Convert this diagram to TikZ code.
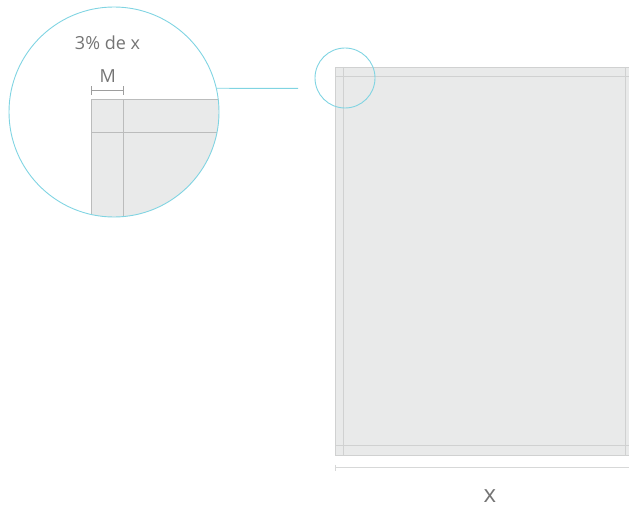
\documentclass[tikz,border=0pt]{standalone}
\usepackage{fontspec}
\setmainfont{Open Sans}
\usetikzlibrary{positioning}
\definecolor{pagefill}{HTML}{E9EAEA}
\definecolor{pageline}{HTML}{D0D1D1}
\definecolor{zoomline}{HTML}{80D4E2}
\definecolor{labelgray}{HTML}{747474}
\tikzset{
  page/.style={fill=pagefill, draw=pageline, line width=0.9pt},
  guide/.style={draw=pageline, line width=0.9pt},
  lens/.style={circle, draw=zoomline, line width=0.9pt, inner sep=0pt},
  dimline/.style={draw=pageline!85!white, line width=1.3pt},
  label/.style={text=labelgray, inner sep=0pt, font=\fontsize{18}{18}\selectfont}
}
\begin{document}
\begin{tikzpicture}[x=1pt, y=-1pt]
  \useasboundingbox (0,0) rectangle (629,508);
  \clip (0,0) rectangle (629,508);
  % the page
  \draw[page] (335,67) rectangle (633,455);
  \draw[guide] (343.3,67) -- (343.3,455);
  \draw[guide] (625.7,67) -- (625.7,455);
  \draw[guide] (335,76) -- (633,76);
  \draw[guide] (335,445.7) -- (633,445.7);
  % width of the page
  \coordinate (widthLeft) at (335,467.7);
  \coordinate (widthRight) at (629,467.7);
  \draw[dimline] (widthLeft) -- (widthRight);
  \draw[dimline, line width=0.6pt] (widthLeft) ++(0,-3) -- ++(0,6);
  \node (widthLabel) [label, font=\fontsize{24}{24}\selectfont] at (490,496) {x};
  % magnified corner
  \begin{scope}
    \clip (114,112) circle (105pt);
    \draw[page, draw=pageline!90!black] (91.7,99) rectangle (240,240);
    \draw[guide, draw=pageline!90!black] (123.7,99) -- (123.7,240);
    \draw[guide, draw=pageline!90!black] (91.7,132.7) -- (240,132.7);
  \end{scope}
  \node (bigLens) [lens, minimum size=210pt] at (114,112) {};
  \node (smallLens) [lens, minimum size=60pt] at (345,78) {};
  \coordinate (lensEnd) at (298,88.4);
  \draw[draw=zoomline, line width=0.9pt] (bigLens.13) -- (lensEnd);
  % margin
  \coordinate (marginLeft) at (91.7,90.7);
  \coordinate (marginRight) at (123.7,90.7);
  \draw[guide, draw=labelgray!70] (marginLeft) -- (marginRight);
  \draw[guide, draw=labelgray!70] (marginLeft) ++(0,-4.5) -- ++(0,9);
  \draw[guide, draw=labelgray!70] (marginRight) ++(0,-4.5) -- ++(0,9);
  \node (marginLabel) [label] at (107.7,76) {M};
  \node (shareLabel) [label] at (107.5,43) {3\% de x};
\end{tikzpicture}
\end{document}
